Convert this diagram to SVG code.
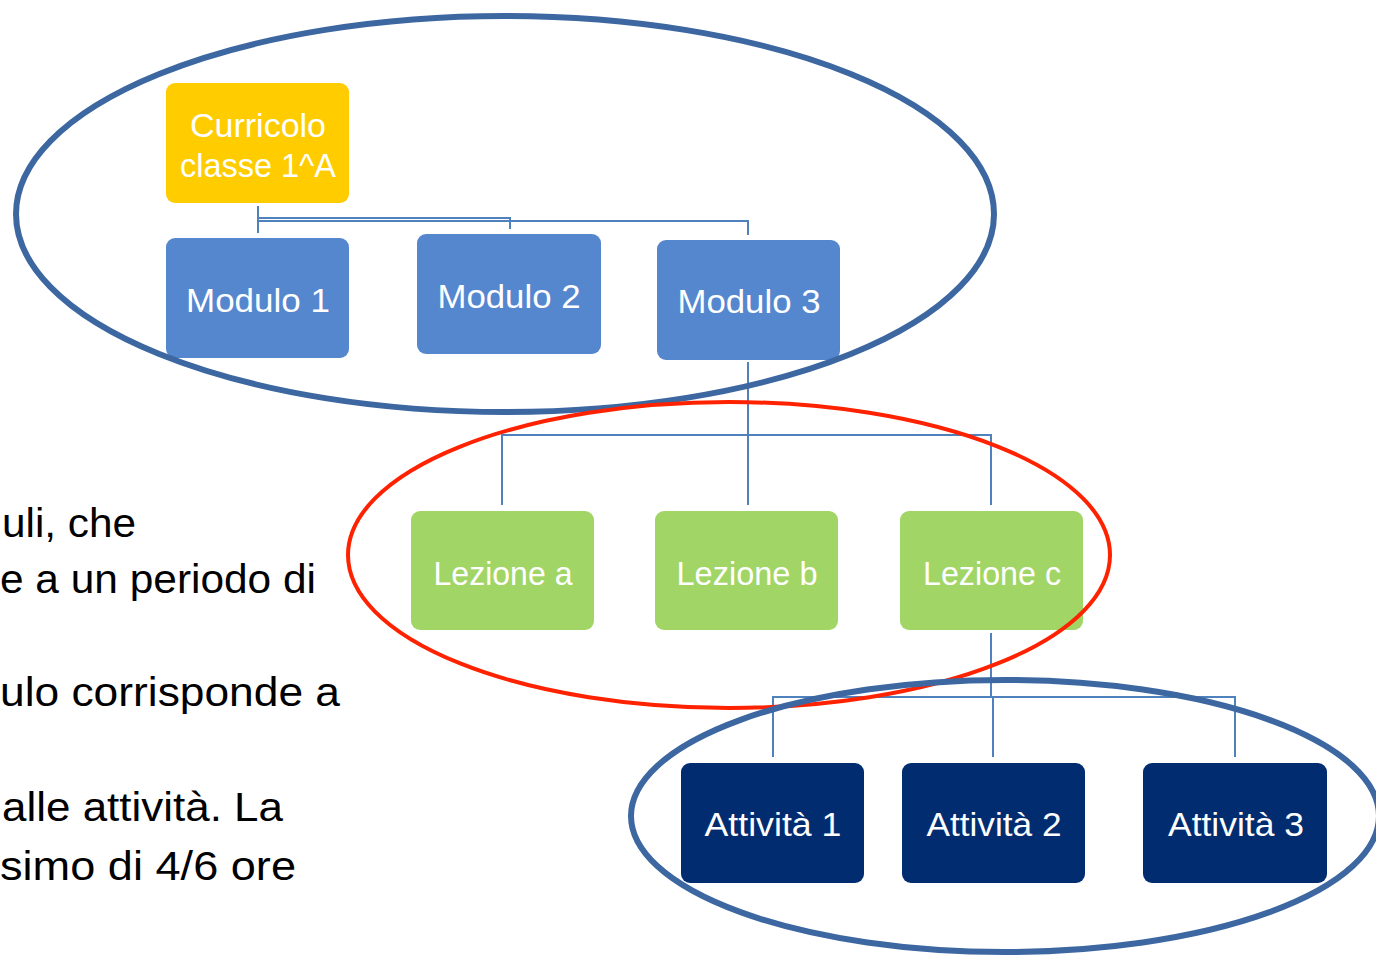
<svg xmlns="http://www.w3.org/2000/svg" width="1376" height="956" viewBox="0 0 1376 956">
<style>
.lbl{font-family:"Liberation Sans",Arial,sans-serif;font-size:33px;fill:#ffffff;text-anchor:middle}
.body{font-family:"Liberation Sans",Arial,sans-serif;font-size:40px;fill:#000000}
.con{stroke:#4f81bd;stroke-width:2;fill:none}
.ring{fill:none;stroke:#3d67a1;stroke-width:6}
.red{fill:none;stroke:#ff2200;stroke-width:4}
.yel{fill:#ffcc00}
.mod{fill:#5587cf}
.lez{fill:#a1d566}
.att{fill:#012d70}
</style>
<rect width="1376" height="956" fill="#ffffff"/>
<g id="text-left">
<text class="body" x="2" y="537" textLength="134" lengthAdjust="spacingAndGlyphs">uli, che</text>
<text class="body" x="0" y="593" textLength="316" lengthAdjust="spacingAndGlyphs">e a un periodo di</text>
<text class="body" x="0" y="706" textLength="340" lengthAdjust="spacingAndGlyphs">ulo corrisponde a</text>
<text class="body" x="2" y="821" textLength="281" lengthAdjust="spacingAndGlyphs">alle attività. La</text>
<text class="body" x="0" y="880" textLength="296" lengthAdjust="spacingAndGlyphs">simo di 4/6 ore</text>
</g>
<g id="connectors">
<polyline class="con" points="258,206 258,233"/>
<polyline class="con" points="258,218 510,218 510,229"/>
<polyline class="con" points="258,221 748,221 748,235"/>
<polyline class="con" points="748,362 748,505"/>
<polyline class="con" points="502,505 502,435 991,435 991,505"/>
<polyline class="con" points="991,633 991,697"/>
<polyline class="con" points="773,757 773,697 1235,697 1235,757"/>
<polyline class="con" points="993,697 993,757"/>
</g>
<g id="curricolo"><rect class="yel" x="166" y="83" width="183" height="120" rx="9"/>
<text class="lbl" x="258" y="137" textLength="136" lengthAdjust="spacingAndGlyphs">Curricolo</text>
<text class="lbl" x="258" y="177" textLength="156" lengthAdjust="spacingAndGlyphs">classe 1^A</text></g>
<g id="modulo1"><rect class="mod" x="166" y="238" width="183" height="120" rx="9"/>
<text class="lbl" x="258" y="312" textLength="144" lengthAdjust="spacingAndGlyphs">Modulo 1</text></g>
<g id="modulo2"><rect class="mod" x="417" y="234" width="184" height="120" rx="9"/>
<text class="lbl" x="509" y="308" textLength="143" lengthAdjust="spacingAndGlyphs">Modulo 2</text></g>
<g id="modulo3"><rect class="mod" x="657" y="240" width="183" height="120" rx="9"/>
<text class="lbl" x="749" y="313" textLength="143" lengthAdjust="spacingAndGlyphs">Modulo 3</text></g>
<g id="lezione-a"><rect class="lez" x="411" y="511" width="183" height="119" rx="9"/>
<text class="lbl" x="503" y="585" textLength="139" lengthAdjust="spacingAndGlyphs">Lezione a</text></g>
<g id="lezione-b"><rect class="lez" x="655" y="511" width="183" height="119" rx="9"/>
<text class="lbl" x="747" y="585" textLength="141" lengthAdjust="spacingAndGlyphs">Lezione b</text></g>
<g id="lezione-c"><rect class="lez" x="900" y="511" width="183" height="119" rx="9"/>
<text class="lbl" x="992" y="585" textLength="138" lengthAdjust="spacingAndGlyphs">Lezione c</text></g>
<g id="attivita1"><rect class="att" x="681" y="763" width="183" height="120" rx="9"/>
<text class="lbl" x="773" y="836" textLength="137" lengthAdjust="spacingAndGlyphs">Attività 1</text></g>
<g id="attivita2"><rect class="att" x="902" y="763" width="183" height="120" rx="9"/>
<text class="lbl" x="994" y="836" textLength="135" lengthAdjust="spacingAndGlyphs">Attività 2</text></g>
<g id="attivita3"><rect class="att" x="1143" y="763" width="184" height="120" rx="9"/>
<text class="lbl" x="1236" y="836" textLength="136" lengthAdjust="spacingAndGlyphs">Attività 3</text></g>
<g id="rings">
<ellipse class="ring" cx="505" cy="214" rx="489" ry="198"/>
<ellipse class="red" cx="729" cy="555" rx="381" ry="153"/>
<ellipse class="ring" cx="1005" cy="816" rx="374" ry="136"/>
</g>
</svg>
